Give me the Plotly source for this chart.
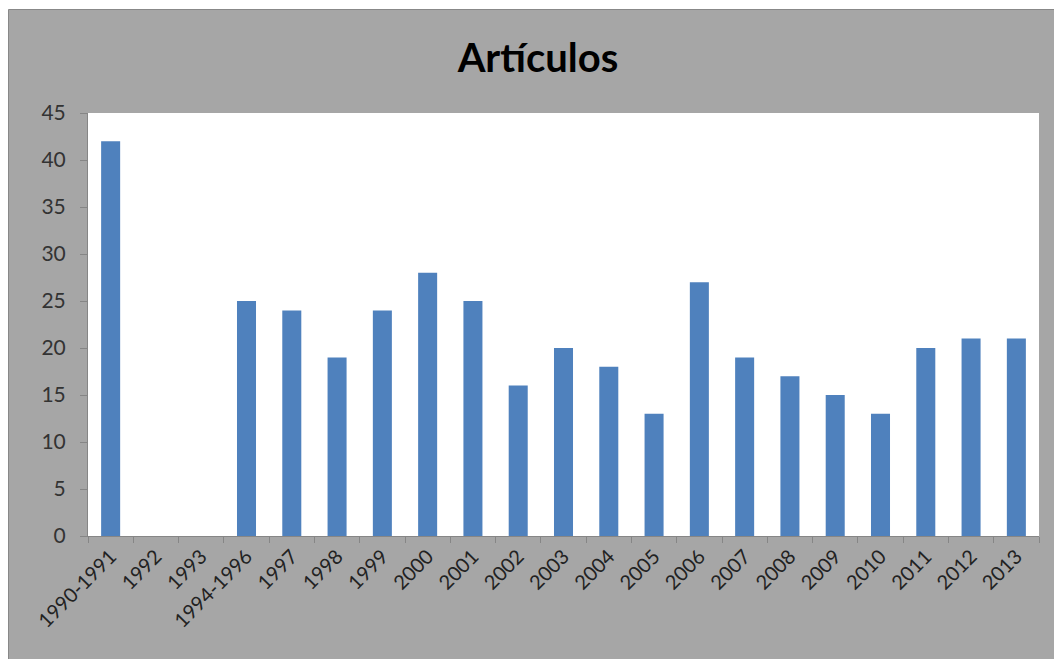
import plotly.graph_objects as go

categories = ["1990-1991", "1992", "1993", "1994-1996", "1997", "1998", "1999", "2000",
              "2001", "2002", "2003", "2004", "2005", "2006", "2007", "2008", "2009",
              "2010", "2011", "2012", "2013"]
articulos = [42, 0, 0, 25, 24, 19, 24, 28, 25, 16, 20, 18, 13, 27, 19, 17, 15, 13, 20, 21, 21]
y_ticks = [0, 5, 10, 15, 20, 25, 30, 35, 40, 45]

W, H = 1054, 659
L, R, T, B = 88, 15, 113, 123
pw, ph = W - L - R, H - T - B

def px_x(p):
    return (p - L) / pw

def px_y(p):
    return (H - B - p) / ph

fig = go.Figure(go.Bar(x=categories, y=articulos, marker=dict(color="#4f81bd", line=dict(width=0))))

fig.add_shape(type="rect", xref="paper", yref="paper", layer="below",
              x0=px_x(8.5), x1=px_x(1060), y0=px_y(670), y1=px_y(9.5),
              fillcolor="#a6a6a6", line=dict(color="#888888", width=1))
fig.add_shape(type="rect", xref="paper", yref="paper", layer="below",
              x0=0, x1=1, y0=0, y1=1, fillcolor="#ffffff", line=dict(width=0))

fig.update_layout(
    width=W, height=H,
    margin=dict(l=L, r=R, t=T, b=B, pad=0),
    paper_bgcolor="#ffffff", plot_bgcolor="#ffffff",
    bargap=0.58,
    showlegend=False,
    title=dict(text="<b>Artículos</b>", x=538 / W, xanchor="center", y=1 - 58 / H, yanchor="middle",
               font=dict(family="Lato", size=40, color="#000000")),
    font=dict(family="Lato", size=21, color="#333333"),
)
fig.update_xaxes(showline=True, linecolor="#868686", linewidth=1, ticks="outside", ticklen=6,
                 tickcolor="#868686", tickson="boundaries", tickangle=-45, showgrid=False,
                 tickfont=dict(family="Lato", size=20, color="#222222"))
fig.update_yaxes(range=[0, 45], tickvals=y_ticks, showline=True, linecolor="#868686", linewidth=1,
                 ticks="outside", ticklen=7, tickcolor="#868686", showgrid=False, zeroline=False,
                 ticklabelstandoff=10,
                 tickfont=dict(family="Lato", size=21, color="#333333"))

fig.write_html("out.html")
